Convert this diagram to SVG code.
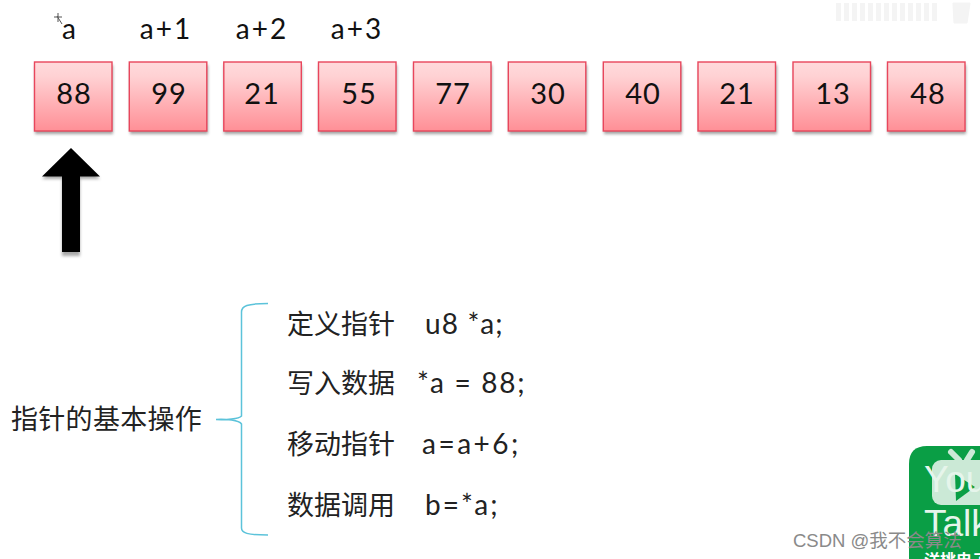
<svg xmlns="http://www.w3.org/2000/svg" width="980" height="559" viewBox="0 0 980 559">
<defs>
<linearGradient id="fill" x1="0" y1="0" x2="0" y2="1"><stop offset="0" stop-color="#ffdadc"/><stop offset="0.2" stop-color="#ffd2d4"/><stop offset="1" stop-color="#ff8f96"/></linearGradient>
<filter id="sh" x="-20%" y="-20%" width="140%" height="140%"><feGaussianBlur stdDeviation="1.6"/></filter>
</defs>
<style>
text{font-family:"Lato","Liberation Sans",sans-serif;fill:#111}
.box{fill:url(#fill);stroke:#e8465c;stroke-width:1.4}
.shadow{fill:#555;opacity:.55;filter:url(#sh)}
.num{font-size:29px;text-anchor:middle;letter-spacing:1px}
.idx{font-size:28px;text-anchor:middle;letter-spacing:2px}
.cn{font-size:27px;font-family:"Noto Sans CJK SC",sans-serif;fill:#222}
.code{font-size:28px;fill:#222}
.logot{font-size:37px;fill:#e6f5eb;font-family:"Liberation Sans",sans-serif}
</style>
<rect width="980" height="559" fill="#fff"/>
<g id="top-right-ghost" fill="none" stroke="#f4f4f4"><path d="M836 12H938" stroke-width="18" stroke-dasharray="5 3"/><path d="M953 3h17l-3 20h-13z" fill="#f4f4f4"/></g>
<g id="labels">
<text class="idx" x="70" y="39">a</text>
<text class="idx" x="166" y="39">a+1</text>
<text class="idx" x="262" y="39">a+2</text>
<text class="idx" x="357" y="39">a+3</text>
<path d="M58 13v9M54 17h8M57 16l5 8" stroke="#555" stroke-width="1" fill="none"/>
</g>
<g id="n0"><rect class="shadow" x="35" y="65" width="78" height="69"/><rect class="box" x="34.500" y="62" width="77.500" height="69"/><text class="num" x="74" y="104">88</text></g>
<g id="n1"><rect class="shadow" x="130" y="65" width="78" height="69"/><rect class="box" x="129.300" y="62" width="77.500" height="69"/><text class="num" x="169" y="104">99</text></g>
<g id="n2"><rect class="shadow" x="224" y="65" width="78" height="69"/><rect class="box" x="223.800" y="62" width="77.500" height="69"/><text class="num" x="262" y="104">21</text></g>
<g id="n3"><rect class="shadow" x="319" y="65" width="78" height="69"/><rect class="box" x="318.500" y="62" width="77.500" height="69"/><text class="num" x="359" y="104">55</text></g>
<g id="n4"><rect class="shadow" x="414" y="65" width="78" height="69"/><rect class="box" x="413.500" y="62" width="77.500" height="69"/><text class="num" x="453" y="104">77</text></g>
<g id="n5"><rect class="shadow" x="509" y="65" width="78" height="69"/><rect class="box" x="508.300" y="62" width="77.500" height="69"/><text class="num" x="548" y="104">30</text></g>
<g id="n6"><rect class="shadow" x="604" y="65" width="78" height="69"/><rect class="box" x="603.300" y="62" width="77.500" height="69"/><text class="num" x="643" y="104">40</text></g>
<g id="n7"><rect class="shadow" x="699" y="65" width="78" height="69"/><rect class="box" x="698" y="62" width="77.500" height="69"/><text class="num" x="737" y="104">21</text></g>
<g id="n8"><rect class="shadow" x="794" y="65" width="78" height="69"/><rect class="box" x="793" y="62" width="77.500" height="69"/><text class="num" x="833" y="104">13</text></g>
<g id="n9"><rect class="shadow" x="888" y="65" width="78" height="69"/><rect class="box" x="887.500" y="62" width="77.500" height="69"/><text class="num" x="928" y="104">48</text></g>
<g id="connectors">
<path d="M71 150.500 100 177H80V254H62V177H42Z" fill="#555" opacity=".5" filter="url(#sh)" transform="translate(0 2)"/>
<path d="M71 148 100 176.500H80V252H62V176.500H42Z" fill="#000"/>
<path d="M216 419.500C226 420 239 419 241.500 416V312C241.500 306 247 303.500 268 303.500M216 419.500C226 419 239 420 241.500 424V528C241.500 533 247 535 268 535" fill="none" stroke="#5cc3da" stroke-width="1.500"/>
</g>
<g id="title"><text class="cn" x="11" y="429" style="letter-spacing:.3px">指针的基本操作</text></g>
<g id="op1"><text class="cn" x="287" y="334">定义指针</text><text class="code" x="425" y="334" style="letter-spacing:1.200px">u8 *a;</text></g>
<g id="op2"><text class="cn" x="287" y="393">写入数据</text><text class="code" x="417" y="393" style="letter-spacing:1.700px">*a = 88;</text></g>
<g id="op3"><text class="cn" x="287" y="454">移动指针</text><text class="code" x="422" y="454" style="letter-spacing:2.500px">a=a+6;</text></g>
<g id="op4"><text class="cn" x="287" y="515">数据调用</text><text class="code" x="425" y="515" style="letter-spacing:2px">b=*a;</text></g>
<g id="logo">
<path d="M980 446H927Q909 446 909 464V559H980Z" fill="#0a9e45"/>
<path d="M951 452l8 8M972 452l-5 8" stroke="#cbe9d6" stroke-width="6" stroke-linecap="round"/>
<rect x="932" y="460" width="60" height="45" rx="9" fill="#cbe9d6"/>
<path d="M955 474 975 487 956 501Z" fill="#0a9e45"/>
<text class="logot" x="924" y="492">You</text>
<text class="logot" x="924" y="536">Talk</text>
<text x="924" y="566" style="font-size:16px;font-weight:bold;fill:#fff;font-family:'Noto Sans CJK SC',sans-serif">洋桃电子</text>
</g>
<g id="watermark"><text x="793" y="547" style="font-size:18.500px;fill:#8a8a8a;font-family:'Liberation Sans','Noto Sans CJK SC',sans-serif">CSDN @我不会算法</text></g>
</svg>
